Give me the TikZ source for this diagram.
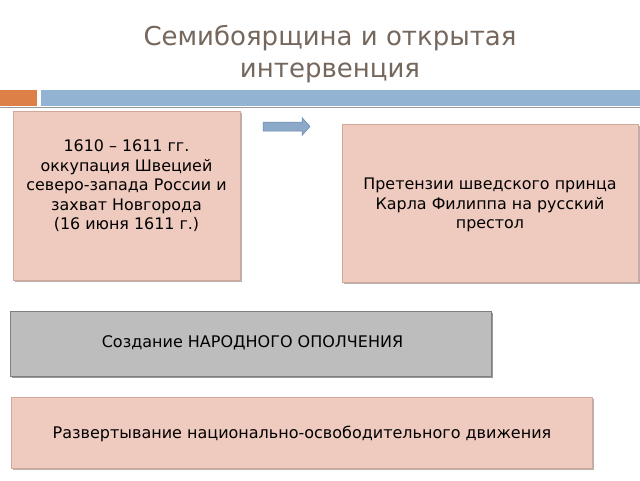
\documentclass[tikz,border=0pt]{standalone}
\usepackage{fontspec}
\setmainfont{DejaVu Sans}
\usetikzlibrary{calc}
\definecolor{titlec}{HTML}{76675D}
\definecolor{pinkfill}{HTML}{EFCABE}
\definecolor{pinkline}{HTML}{D4A898}
\definecolor{grayfill}{HTML}{BDBDBD}
\definecolor{grayline}{HTML}{7F7F7F}
\definecolor{barblue}{HTML}{93B3D3}
\definecolor{barorange}{HTML}{DD8047}
\definecolor{arrowfill}{HTML}{8CA9C9}
\definecolor{arrowline}{HTML}{6A89AC}
\tikzset{
  x=1pt, y=-1pt,
  shadowbox/.style={draw=#1, line width=0.6pt},
  boxtext/.style={align=center, font=\fontsize{15.9}{19.5}\selectfont, text=black},
  boxtextb/.style={align=center, font=\fontsize{16}{19}\selectfont, text=black},
}
\begin{document}
\begin{tikzpicture}
\useasboundingbox (0,0) rectangle (640,480);
\fill[white] (0,0) rectangle (640,480);
% title
\node[text=titlec, font=\fontsize{26}{32}\selectfont, align=center] (title) at (330,54) {Семибоярщина и открытая\\интервенция};
% bars
\fill[barorange] (0,90) rectangle (37,106);
\fill[barblue] (41,90) rectangle (640,106);
\draw[gray!80, line width=0.8pt] (0,107.5) -- (640,107.5);
% shadows
\fill[black!30] (15,113) rectangle (242,282);
\fill[black!30] (344,126) rectangle (640,284);
\fill[black!40] (12,313) rectangle (493,378);
\fill[black!30] (13,399) rectangle (594,470);
% boxes
\draw[shadowbox=pinkline, fill=pinkfill] (13,111) rectangle (240,280);
\node[boxtext] (b1) at (126.5,186) {1610 – 1611 гг.\\оккупация Швецией\\северо-запада России и\\захват Новгорода\\(16 июня 1611 г.)};
\draw[shadowbox=pinkline, fill=pinkfill] (342,124) rectangle (638,282);
\node[boxtext] (b2) at (490,205) {Претензии шведского принца\\Карла Филиппа на русский\\престол};
\draw[shadowbox=grayline, fill=grayfill] (10,311) rectangle (491,376);
\node[boxtextb] (b3) at (252.5,343) {Создание НАРОДНОГО ОПОЛЧЕНИЯ};
\draw[shadowbox=pinkline, fill=pinkfill] (11,397) rectangle (592,468);
\node[boxtextb] (b4) at (302,434) {Развертывание национально-освободительного движения};
% arrow
\coordinate (arrtail) at (263,126.5);
\draw[draw=arrowline, fill=arrowfill, line width=0.5pt]
  ($(arrtail)+(0,-4.5)$) -- ++(39,0) -- ++(0,-4.5) -- (310,126.5) -- (302,135.5) -- ++(0,-4.5) -- ($(arrtail)+(0,4.5)$) -- cycle;
\end{tikzpicture}
\end{document}
